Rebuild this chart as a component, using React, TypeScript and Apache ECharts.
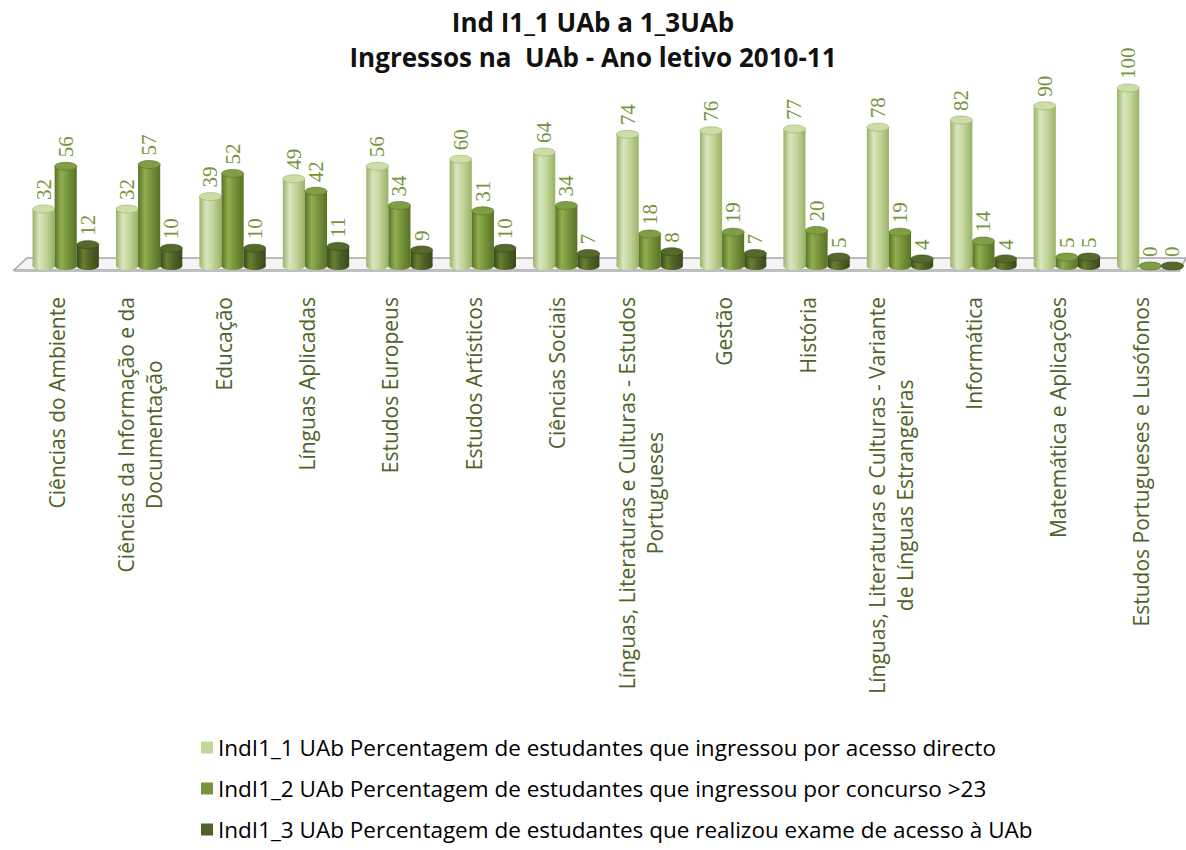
import React, { useEffect, useRef } from "react";
import * as echarts from "echarts";

const categories = [
  "Ciências do Ambiente",
  "Ciências da Informação e da\nDocumentação",
  "Educação",
  "Línguas Aplicadas",
  "Estudos Europeus",
  "Estudos Artísticos",
  "Ciências Sociais",
  "Línguas, Literaturas e Culturas - Estudos\nPortugueses",
  "Gestão",
  "História",
  "Línguas, Literaturas e Culturas - Variante\nde Línguas Estrangeiras",
  "Informática",
  "Matemática e Aplicações",
  "Estudos Portugueses e Lusófonos",
];

const seriesNames = [
  "IndI1_1 UAb Percentagem de estudantes que ingressou por acesso directo",
  "IndI1_2 UAb Percentagem de estudantes que ingressou por concurso >23",
  "IndI1_3 UAb Percentagem de estudantes que realizou exame de acesso à UAb",
];

const acessoDirecto = [32, 32, 39, 49, 56, 60, 64, 74, 76, 77, 78, 82, 90, 100];
const concurso23 = [56, 57, 52, 42, 34, 31, 34, 18, 19, 20, 19, 14, 5, 0];
const exameAcesso = [12, 10, 10, 11, 9, 10, 7, 8, 7, 5, 4, 4, 5, 0];

const seriesValues = [acessoDirecto, concurso23, exameAcesso];

const palettes = [
  { base: "#C3D69B", edge: "#98B266", hi: "#D9E6BF", top: "#CCDDA8" },
  { base: "#77933C", edge: "#587224", hi: "#8FAE4E", top: "#809E45" },
  { base: "#4F6228", edge: "#394A18", hi: "#66802F", top: "#56692C" },
];

const SANS = '"Open Sans", sans-serif';

function makeRender(si: number) {
  const p = palettes[si];
  return (params: any, api: any) => {
    const idx = api.value(0);
    const val = api.value(1);
    const top = api.coord([idx, val]);
    const base = api.coord([idx, 0]);
    const band = api.size([1, 0])[0];
    const w = band * 0.265;
    const cx = top[0] + 9 + (si - 1) * w;
    const x0 = cx - w / 2;
    const ry = 4;
    const h = base[1] - top[1];
    const grad = new echarts.graphic.LinearGradient(0, 0, 1, 0, [
      { offset: 0, color: p.edge },
      { offset: 0.3, color: p.hi },
      { offset: 0.6, color: p.base },
      { offset: 1, color: p.edge },
    ]);
    return {
      type: "group",
      children: [
        {
          type: "ellipse",
          shape: { cx, cy: base[1], rx: w / 2, ry },
          style: { fill: grad },
        },
        {
          type: "rect",
          shape: { x: x0, y: top[1], width: w, height: h },
          style: { fill: grad },
        },
        {
          type: "ellipse",
          shape: { cx, cy: top[1], rx: w / 2, ry },
          style: { fill: p.top, stroke: p.edge, lineWidth: 0.6 },
        },
        {
          type: "text",
          x: cx,
          y: top[1] - ry - 5,
          rotation: Math.PI / 2,
          z2: 50,
          style: {
            text: String(val),
            align: "left",
            verticalAlign: "middle",
            fill: "#77933C",
            fontSize: 21,
            fontFamily: '"Liberation Serif", serif',
          },
        },
      ],
    };
  };
}

export default function App() {
  const ref = useRef<HTMLDivElement>(null);
  useEffect(() => {
    if (!ref.current) return;
    const chart = echarts.init(ref.current, null, { renderer: "svg" });
    const option: any = {
      animation: false,
      backgroundColor: "#ffffff",
      title: {
        text: "Ind I1_1 UAb a 1_3UAb\nIngressos na  UAb - Ano letivo 2010-11",
        left: "center",
        top: 4,
        padding: 0,
        textStyle: {
          fontFamily: SANS,
          fontWeight: "bold",
          fontSize: 26,
          lineHeight: 35,
          color: "#111",
        },
      },
      legend: {
        orient: "vertical",
        left: 196,
        top: 731,
        itemGap: 18,
        itemWidth: 12,
        itemHeight: 12,
        icon: "rect",
        textStyle: { fontFamily: SANS, fontSize: 22.5, color: "#000" },
        data: seriesNames,
      },
      graphic: [
        {
          type: "polygon",
          z: -1,
          shape: {
            points: [
              [14, 270],
              [1180, 270],
              [1186, 258],
              [27, 258],
            ],
          },
          style: { fill: "#F4F4F4", stroke: "#A6A6A6", lineWidth: 1.5 },
        },
        {
          type: "rect",
          z: -1,
          shape: { x: 14, y: 270, width: 1166, height: 2 },
          style: { fill: "#BFBFBF" },
        },
      ],
      grid: { left: 15, right: 3, top: 88, bottom: 584, containLabel: false },
      xAxis: {
        type: "category",
        data: categories,
        axisLine: { show: false },
        axisTick: { show: false },
        axisLabel: {
          interval: 0,
          rotate: 90,
          margin: 31,
          color: "#4F6228",
          fontFamily: SANS,
          fontSize: 21,
          lineHeight: 28,
          formatter: (v: string) =>
            v
              .split("\n")
              .map((l) => "{c|" + l + "}")
              .join("\n"),
          rich: {
            c: {
              align: "center",
              color: "#4F6228",
              fontFamily: SANS,
              fontSize: 21,
              lineHeight: 28,
            },
          },
        },
      },
      yAxis: {
        type: "value",
        min: 0,
        max: 100,
        show: false,
        splitLine: { show: false },
      },
      series: seriesValues.map((vals, si) => ({
        type: "custom",
        name: seriesNames[si],
        itemStyle: { color: palettes[si].base },
        renderItem: makeRender(si),
        encode: { x: 0, y: 1 },
        data: vals.map((v, i) => [i, v]),
        z: 2 + si,
      })),
    };
    chart.setOption(option);
    return () => chart.dispose();
  }, []);
  return (
    <div
      ref={ref}
      style={{ position: "fixed", left: 0, top: 0, width: 1186, height: 850 }}
    />
  );
}
